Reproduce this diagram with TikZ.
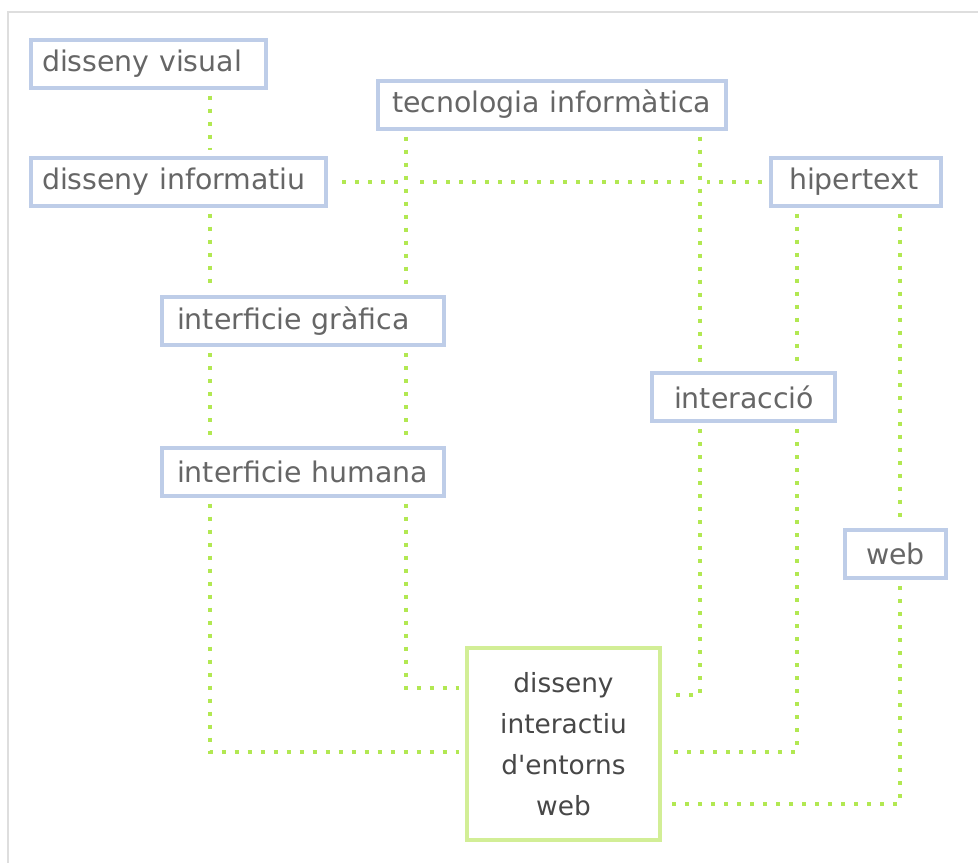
\documentclass[tikz,border=0pt]{standalone}
\usepackage{fontspec}
\setmainfont{DejaVu Sans}
\definecolor{boxblue}{RGB}{190,205,232}
\definecolor{boxgreen}{RGB}{210,238,150}
\definecolor{linkgreen}{RGB}{178,232,82}
\definecolor{textgray}{RGB}{102,102,102}
\definecolor{framegray}{RGB}{222,222,222}
\tikzset{
  box/.style={draw=boxblue, line width=2pt, text=textgray, minimum height=24pt, align=left,
    font=\fontsize{14.2}{17}\selectfont},
  mainbox/.style={draw=boxgreen, line width=2.25pt, text=black!72, minimum width=96.5pt,
    minimum height=96pt, text width=80pt, align=center, font=\fontsize{13.2}{20.5}\selectfont},
  link/.style={draw=linkgreen, line width=2pt, dash pattern=on 2pt off 4.5pt,
    shorten <=3pt, shorten >=3pt},
  over/.style={preaction={draw=white, solid, line width=7pt}}
}
\begin{document}
\begin{tikzpicture}[x=0.5pt,y=-0.5pt]
  \useasboundingbox (0,0) rectangle (978,863);
  % frame, top and left only
  \draw[framegray,line width=1pt] (978,12) -- (8,12) -- (8,863);

  % columns and rows of the links
  \coordinate (c1) at (210,0); \coordinate (c2) at (406,0); \coordinate (c3) at (700,0);
  \coordinate (c4) at (797,0); \coordinate (c5) at (900,0);
  \coordinate (r1) at (0,688); \coordinate (r2) at (0,695); \coordinate (r3) at (0,752);
  \coordinate (r4) at (0,804);

  % boxes
  \node[box,text width=106.5pt,inner xsep=5.5pt] (vis) at (148.5,63.5) {disseny~visual};
  \node[box,text width=160pt,inner xsep=7pt] (tec) at (552,104.5) {tecnologia~informàtica};
  \node[box,text width=136.5pt,inner xsep=5.5pt] (inf) at (178.5,181.5) {disseny~informatiu};
  \node[box,text width=67pt,inner xsep=9pt] (hip) at (856,181.5) {hipertext};
  \node[box,text width=126pt,inner xsep=7.5pt] (gra) at (303,321) {interficie~gràfica};
  \node[box,text width=69.5pt,inner xsep=11pt] (int) at (743.5,397) {interacció};
  \node[box,text width=126pt,inner xsep=7.5pt] (hum) at (303,471.5) {interficie~humana};
  \node[box,text width=29.5pt,inner xsep=10.5pt] (web) at (895.5,554) {web};
  \node[mainbox] (main) at (563.5,744) {disseny\\interactiu\\d\textquotesingle entorns\\web};

  % links
  \draw[link] (vis.south -| c1) -- (inf.north -| c1);
  \draw[link,shorten <=7pt] (inf.east) -- (hip.west);
  \draw[link,over] (tec.south -| c2) -- (gra.north -| c2);
  \draw[link,over] (tec.south -| c3) -- (int.north -| c3);
  \draw[link] (inf.south -| c1) -- (gra.north -| c1);
  \draw[link] (gra.south -| c1) -- (hum.north -| c1);
  \draw[link] (gra.south -| c2) -- (hum.north -| c2);
  \draw[link] (hip.south -| c4) -- (int.north -| c4);
  \draw[link] (hip.south -| c5) -- (web.north -| c5);
  \draw[link] (hum.south -| c1) |- (main.west |- r3);
  \draw[link] (hum.south -| c2) |- (main.west |- r1);
  \draw[link] (int.south -| c3) |- (main.east |- r2);
  \draw[link] (int.south -| c4) |- (main.east |- r3);
  \draw[link] (web.south -| c5) |- (main.east |- r4);
\end{tikzpicture}
\end{document}
